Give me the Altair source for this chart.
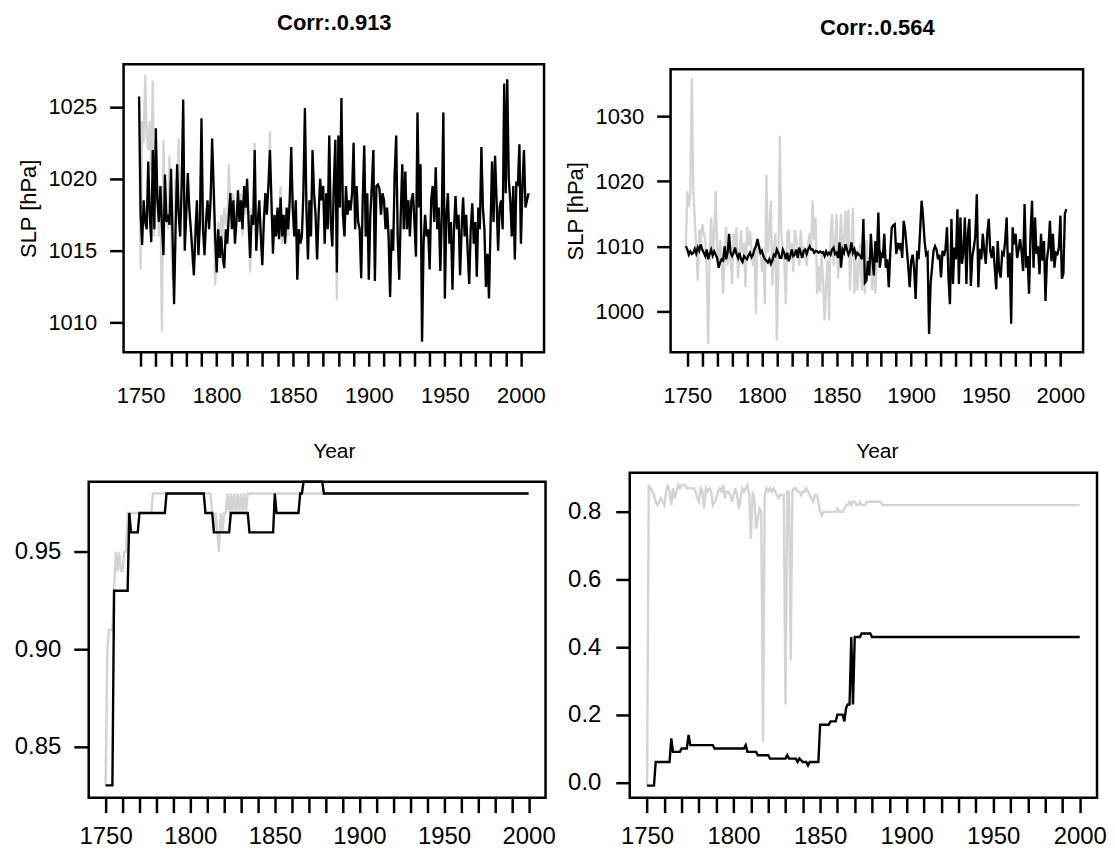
import altair as alt
import pandas as pd

FONT = "Liberation Sans"

# ---------------- data ----------------
TOP_START = 1749

# top-left: SLP, black series 1749-2005
tl_black = [
    1025.7,
    1017.5, 1015.4, 1018.5, 1017.0, 1016.5, 1021.2, 1017.5, 1015.6, 1022.0, 1016.5,
    1023.5, 1018.5, 1017.0, 1019.5, 1016.8, 1014.7, 1020.3, 1017.0, 1017.5, 1016.8,
    1020.7, 1016.0, 1011.3, 1016.5, 1021.0, 1017.5, 1016.0, 1019.5, 1025.5, 1015.0,
    1017.5, 1020.4, 1018.0, 1016.5, 1015.0, 1013.3, 1016.0, 1018.5, 1014.7, 1017.0,
    1024.2, 1016.5, 1014.7, 1017.0, 1018.5, 1016.5, 1018.5, 1022.8, 1019.5, 1016.0,
    1013.5, 1016.5, 1014.5, 1016.0, 1014.5, 1013.8, 1016.5, 1015.5, 1017.5, 1019.0,
    1016.5, 1018.5, 1015.5, 1017.0, 1019.2, 1017.0, 1018.5, 1016.5, 1019.5, 1018.0,
    1020.0, 1017.0, 1014.5, 1017.5, 1016.8, 1022.0, 1015.0, 1017.0, 1018.5, 1016.0,
    1014.0, 1017.0, 1019.0, 1017.5, 1019.5, 1022.0, 1018.5, 1014.8, 1017.5, 1016.0,
    1018.0, 1015.8, 1018.7, 1016.0, 1017.5, 1015.5, 1018.0, 1016.5, 1018.5, 1022.2,
    1018.0, 1016.0, 1018.5, 1013.0, 1016.5, 1015.5, 1016.0, 1019.0, 1024.9, 1018.0,
    1014.4, 1018.5, 1016.0, 1022.0, 1019.0, 1017.5, 1014.4, 1017.5, 1020.0, 1018.5,
    1019.5, 1015.5, 1019.0, 1016.5, 1023.0, 1017.0, 1015.3, 1019.5, 1022.7, 1013.5,
    1023.0, 1018.0, 1025.6, 1017.5, 1016.0, 1019.5, 1017.5, 1018.5, 1017.8, 1019.0,
    1022.5, 1016.5, 1019.5, 1017.0, 1016.5, 1013.1, 1018.5, 1022.3, 1016.0, 1019.0,
    1013.0, 1017.5, 1019.5, 1022.0, 1012.9, 1019.5, 1019.6, 1019.3, 1017.5, 1019.0,
    1018.5, 1016.5, 1018.0, 1016.0, 1011.8, 1016.5, 1015.0, 1020.3, 1023.0, 1016.0,
    1013.0, 1017.5, 1021.0, 1016.5, 1020.5, 1016.5, 1018.5, 1016.0, 1018.5, 1019.0,
    1017.0, 1014.6, 1024.6, 1018.0, 1021.0, 1008.7, 1015.5, 1017.5, 1016.0, 1016.5,
    1013.7, 1018.5, 1019.5, 1017.0, 1020.8, 1016.5, 1018.0, 1013.6, 1017.5, 1024.6,
    1011.7, 1017.5, 1019.0, 1015.5, 1017.0, 1012.3, 1016.5, 1018.8, 1016.5, 1017.5,
    1013.3, 1016.5, 1018.7, 1016.0, 1017.5, 1015.0, 1012.7, 1016.5, 1018.3, 1015.5,
    1017.0, 1013.2, 1018.0, 1016.5, 1022.2, 1018.0, 1016.5, 1012.5, 1014.8, 1011.7,
    1016.5, 1021.2, 1017.0, 1021.6, 1018.5, 1015.0, 1018.0, 1018.5, 1016.5, 1026.6,
    1019.0, 1026.9, 1020.0, 1018.5, 1016.0, 1019.5, 1014.4, 1019.8, 1019.5, 1022.4,
    1015.5, 1019.5, 1022.0, 1018.0, 1018.5, 1019.0,
]

# top-left: grey series, 1749-1849 (later years lie under the black line)
tl_grey_early = [
    1025.0,
    1013.7, 1024.0, 1022.5, 1027.2, 1023.0, 1022.0, 1024.0, 1020.5, 1026.8, 1016.0,
    1022.5, 1019.5, 1016.0, 1018.5, 1009.4, 1022.7, 1018.0, 1017.5, 1016.5, 1021.6,
    1017.0, 1013.0, 1016.5, 1020.0, 1019.5, 1022.8, 1016.5, 1019.0, 1024.5, 1016.0,
    1018.0, 1019.0, 1017.5, 1016.5, 1014.0, 1015.5, 1017.0, 1018.0, 1015.5, 1016.5,
    1023.0, 1017.5, 1015.5, 1018.0, 1017.5, 1017.0, 1019.0, 1021.5, 1018.5, 1012.6,
    1014.5, 1017.0, 1015.0, 1017.5, 1016.0, 1018.0, 1017.0, 1016.5, 1021.0, 1018.0,
    1017.5, 1019.0, 1016.0, 1017.5, 1018.5, 1017.5, 1019.0, 1016.0, 1019.0, 1017.5,
    1019.5, 1016.5, 1013.5, 1018.0, 1017.0, 1022.5, 1015.5, 1017.5, 1018.0, 1016.5,
    1014.5, 1017.5, 1018.5, 1018.0, 1019.5, 1023.3, 1018.0, 1015.5, 1017.0, 1016.5,
    1017.5, 1016.5, 1019.5, 1015.5, 1017.0, 1016.0, 1017.5, 1016.0, 1018.0, 1021.5,
]
tl_grey_late_changes = {1858: 1024.0, 1863: 1021.0, 1879: 1011.6}

# top-right: SLP, black series 1749-2004
tr_black = [
    1010.0,
    1009.5, 1008.7, 1009.2, 1008.8, 1009.0, 1009.6, 1008.9, 1009.8, 1009.3, 1010.3,
    1009.5, 1009.0, 1008.5, 1009.5, 1008.0, 1008.8, 1009.5, 1008.6, 1009.2, 1008.7,
    1008.2, 1006.7, 1007.5, 1008.0, 1007.8, 1010.0, 1008.0, 1009.0, 1011.9, 1009.0,
    1008.5, 1009.0, 1009.8, 1008.8, 1008.2, 1009.0, 1008.0, 1007.6, 1008.5, 1008.2,
    1008.0, 1008.6, 1009.0, 1008.3, 1008.7, 1009.5, 1010.0, 1011.1, 1010.0, 1009.0,
    1009.3, 1008.5, 1008.0, 1007.8, 1007.5, 1008.0, 1007.3, 1007.8, 1008.7, 1008.5,
    1009.5, 1009.0, 1008.2, 1008.2, 1009.5, 1009.0, 1008.0, 1009.0, 1007.7, 1008.5,
    1009.5, 1008.5, 1008.7, 1009.5, 1008.2, 1009.8, 1009.0, 1008.2, 1009.3, 1009.5,
    1008.8, 1009.5, 1010.0, 1009.5, 1009.5, 1009.0, 1009.3, 1009.2, 1009.0, 1009.2,
    1009.0, 1009.1, 1008.5, 1009.2, 1008.7, 1009.0, 1008.7, 1009.5, 1009.8, 1008.8,
    1009.0, 1008.2, 1010.6, 1006.7, 1009.5, 1009.0, 1010.3, 1009.5, 1008.7, 1009.2,
    1010.6, 1009.0, 1009.5, 1008.4, 1009.0, 1008.7, 1008.5, 1008.0, 1014.2, 1004.4,
    1004.7, 1007.7, 1005.5, 1011.9, 1008.0, 1005.5, 1010.8, 1007.5, 1015.2, 1006.7,
    1008.7, 1008.2, 1011.9, 1006.7, 1008.0, 1003.7, 1009.0, 1012.9, 1013.2, 1013.4,
    1008.8, 1010.5, 1009.8, 1010.5, 1008.2, 1013.9, 1012.4, 1009.8, 1007.0, 1003.7,
    1007.7, 1008.7, 1006.5, 1001.9, 1009.3, 1008.0, 1012.4, 1017.0, 1014.4, 1010.8,
    1008.7, 1009.0, 996.5, 1004.2, 1006.7, 1009.3, 1010.0, 1009.5, 1008.0, 1008.7,
    1005.2, 1009.3, 1008.5, 1009.5, 1012.9, 1005.2, 1001.1, 1014.2, 1004.2, 1009.8,
    1008.0, 1015.7, 1004.2, 1014.4, 1007.3, 1009.0, 1014.4, 1004.2, 1011.9, 1014.2,
    1003.9, 1008.5, 1009.8, 1011.6, 1018.0, 1003.7, 1009.6, 1008.0, 1011.9, 1009.3,
    1007.3, 1011.9, 1014.2, 1009.3, 1008.2, 1010.0, 1006.7, 1003.4, 1010.8, 1006.2,
    1005.2, 1009.0, 1008.7, 1010.8, 1014.4, 1005.2, 1009.0, 998.1, 1012.9, 1010.3,
    1011.9, 1008.2, 1009.5, 1011.1, 1009.2, 1006.2, 1016.5, 1006.7, 1008.5, 1002.7,
    1011.9, 1017.0, 1006.7, 1014.4, 1008.8, 1010.0, 1005.7, 1011.9, 1007.8, 1010.8,
    1001.6, 1008.0, 1009.8, 1013.9, 1007.7, 1011.9, 1006.7, 1009.0, 1008.8, 1009.8,
    1014.7, 1005.0, 1005.8, 1015.0, 1015.7,
]

# top-right: grey series 1749-1876 (later years lie under the black line)
tr_grey_early = [
    1010.0,
    1018.5, 1016.0, 1018.0, 1035.8, 1019.0, 1014.0, 1010.0, 1004.7, 1012.5, 1010.5,
    1013.4, 1012.0, 1011.0, 1006.0, 995.0, 1009.5, 1014.4, 1008.0, 1012.0, 1018.5,
    1009.5, 1007.0, 1011.0, 1008.0, 1002.7, 1008.5, 1013.0, 1007.0, 1010.0, 1008.0,
    1004.2, 1012.0, 1010.0, 1012.9, 1005.0, 1009.0, 1012.5, 1009.0, 1010.5, 1003.7,
    1013.0, 1010.0, 1012.4, 1009.5, 1007.0, 1010.0, 999.6, 1011.0, 1009.0, 1010.0,
    1006.0, 1008.5, 1001.1, 1021.0, 1009.0, 1012.0, 1017.0, 1004.0, 1009.5, 1012.0,
    995.5, 1007.0, 1027.0, 1012.0, 1009.5, 1007.5, 1001.1, 1012.0, 1012.5, 1008.0,
    1010.5, 1006.0, 1012.5, 1011.0, 1009.5, 1007.0, 1012.5, 1009.0, 1010.0, 1008.5,
    1007.0, 1010.5, 1012.0, 1010.0, 1017.0, 1011.0, 1014.4, 1002.7, 1007.0, 1003.0,
    1009.0, 1004.5, 998.6, 1004.2, 1008.0, 998.6, 1012.0, 1015.0, 1007.0, 1010.0,
    1015.0, 1005.0, 1009.5, 1015.0, 1008.0, 1011.0, 1015.4, 1009.0, 1015.7, 1003.2,
    1010.0, 1015.9, 1002.7, 1009.5, 1003.2, 1007.0, 1010.5, 1003.2, 1009.5, 1002.7,
    1011.0, 1006.0, 1008.0, 1009.0, 1003.2, 1008.5, 1002.7,
]

# bottom-left: change points (year, value)
bl_black_years = [1750, 1754, 1755, 1763, 1764, 1765, 1769, 1770, 1785, 1786, 1808, 1809,
                  1813, 1814, 1823, 1824, 1834, 1835, 1849, 1850, 1851, 1864, 1865, 1866,
                  1867, 1878, 1879, 2000]
bl_black_vals = [0.83, 0.83, 0.93, 0.93, 0.97, 0.96, 0.96, 0.97, 0.97, 0.98, 0.98, 0.97,
                 0.97, 0.96, 0.96, 0.97, 0.97, 0.96, 0.96, 0.98, 0.97, 0.97, 0.98, 0.98,
                 0.986, 0.986, 0.98, 0.98]
bl_grey_years = [1750, 1751, 1752, 1754, 1755, 1756, 1757, 1758, 1759, 1760, 1761, 1762,
                 1763, 1777, 1778, 1812, 1813, 1814, 1815, 1816, 1817, 1818, 1819, 1820,
                 1821, 1822, 1823, 1824, 1825, 1826, 1827, 1828, 1829, 1830, 1831, 1832,
                 1833, 1834, 2000]
bl_grey_vals = [0.83, 0.90, 0.91, 0.91, 0.93, 0.95, 0.94, 0.95, 0.94, 0.94, 0.95, 0.95,
                0.97, 0.97, 0.98, 0.98, 0.97, 0.96, 0.97, 0.96, 0.95, 0.97, 0.96, 0.97,
                0.97, 0.98, 0.97, 0.98, 0.97, 0.98, 0.97, 0.98, 0.97, 0.98, 0.97, 0.98,
                0.97, 0.98, 0.98]

# bottom-right: change points (year, value)
br_black_years = [1750, 1754, 1755, 1763, 1764, 1765, 1769, 1770, 1773, 1774, 1775, 1788,
                  1789, 1806, 1807, 1808, 1813, 1814, 1820, 1821, 1830, 1831, 1832, 1836,
                  1837, 1838, 1840, 1842, 1843, 1844, 1849, 1850, 1855, 1856, 1859, 1860,
                  1863, 1864, 1865, 1866, 1867, 1868, 1869, 1870, 1873, 1874, 1879, 1880,
                  2000]
br_black_vals = [-0.01, -0.01, 0.06, 0.06, 0.13, 0.09, 0.09, 0.10, 0.10, 0.14, 0.11, 0.11,
                 0.10, 0.10, 0.11, 0.09, 0.09, 0.08, 0.08, 0.07, 0.07, 0.08, 0.07, 0.07,
                 0.06, 0.07, 0.06, 0.06, 0.05, 0.06, 0.06, 0.17, 0.17, 0.18, 0.18, 0.20,
                 0.20, 0.18, 0.22, 0.23, 0.23, 0.43, 0.23, 0.43, 0.43, 0.44, 0.44, 0.43,
                 0.43]
br_grey_years = list(range(1750, 1881)) + [1885, 1886, 2000]
br_grey_vals = [
    -0.01,
    0.88, 0.87, 0.86, 0.85, 0.83, 0.82, 0.83, 0.84, 0.83, 0.82,   # 1751-1760
    0.86, 0.88, 0.86, 0.82, 0.87, 0.84, 0.86, 0.88, 0.87, 0.88,   # 1761-1770
    0.88, 0.88, 0.87, 0.87, 0.87, 0.87, 0.87, 0.86, 0.84, 0.83,   # 1771-1780
    0.87, 0.86, 0.81, 0.87, 0.86, 0.87, 0.86, 0.82, 0.83, 0.84,   # 1781-1790
    0.86, 0.87, 0.86, 0.88, 0.84, 0.86, 0.86, 0.85, 0.83, 0.85,   # 1791-1800
    0.87, 0.85, 0.81, 0.84, 0.87, 0.86, 0.87, 0.88, 0.85, 0.72,   # 1801-1810
    0.86, 0.84, 0.75, 0.78, 0.81, 0.80, 0.12, 0.85, 0.87, 0.86,   # 1811-1820
    0.87, 0.86, 0.87, 0.86, 0.85, 0.84, 0.85, 0.85, 0.85, 0.23,   # 1821-1830
    0.86, 0.86, 0.36, 0.86, 0.87, 0.87, 0.86, 0.86, 0.85, 0.86,   # 1831-1840
    0.86, 0.87, 0.86, 0.85, 0.84, 0.83, 0.85, 0.85, 0.83, 0.80,   # 1841-1850
    0.79, 0.80, 0.80, 0.80, 0.80, 0.80, 0.80, 0.80, 0.80, 0.81,   # 1851-1860
    0.80, 0.80, 0.80, 0.81, 0.82, 0.82, 0.83, 0.82, 0.83, 0.83,   # 1861-1870
    0.82, 0.82, 0.83, 0.82, 0.82, 0.82, 0.83, 0.83, 0.83, 0.83,   # 1871-1880
    0.83, 0.82, 0.82,                                             # 1885, 1886, 2000
]

# tick labels / titles
corr_left = "Corr:.0.913"
corr_right = "Corr:.0.564"
y_title = "SLP [hPa]"
x_title = "Year"
year_ticks = list(range(1750, 2001, 10))
tl_yticks = [1010, 1015, 1020, 1025]
tr_yticks = [1000, 1010, 1020, 1030]
bl_yticks = [0.85, 0.90, 0.95]
br_yticks = [0.0, 0.2, 0.4, 0.6, 0.8]

# axis extents of each panel (the plot box is drawn at these limits)
TOP_X = [1738.8, 2015.2]
BOT_X = [1740.0, 2010.0]
TL_Y = [1007.96, 1027.94]
TR_Y = [993.7, 1037.2]
BL_Y = [0.8237, 0.986]
BR_Y = [-0.0456, 0.9156]


# ---------------- build tables ----------------
def annual(start, values):
    return pd.DataFrame({"year": list(range(start, start + len(values))), "value": values})


def points(years, values):
    return pd.DataFrame({"year": years, "value": values})


def frame_df(xdom, ydom):
    return pd.DataFrame({"x0": [xdom[0]], "x1": [xdom[1]], "y0": [ydom[0]], "y1": [ydom[1]]})


tl_grey = tl_grey_early + tl_black[len(tl_grey_early):]
for yr, v in tl_grey_late_changes.items():
    tl_grey[yr - TOP_START] = v
tr_grey = tr_grey_early + tr_black[len(tr_grey_early):]

GREY = "#d3d3d3"


def panel(grey_df, black_df, xdom, ydom, vw, vh, box, yticks, yfmt, lab_size,
          ytick, ylab_pad, xtick, xlab_pad, lw, ytitle=None, ytitle_pad=0,
          xtitle=None, xtitle_pad=0, title=None, title_pad=30):
    x_left, x_right, y_top, y_bottom = box
    xs = alt.Scale(domain=xdom, range=[x_left, x_right], nice=False, zero=False)
    ys = alt.Scale(domain=ydom, range=[y_bottom, y_top], nice=False, zero=False)

    ykw = dict(orient="left", offset=-x_left, values=yticks, format=yfmt,
               tickSize=ytick, tickWidth=2.5, domain=False, grid=False,
               labelFontSize=lab_size, labelPadding=ylab_pad, labelOverlap=False,
               labelFlush=False, labelAngle=0)
    if ytitle:
        ykw.update(title=ytitle, titleFontSize=22, titleFontWeight="normal",
                   titlePadding=ytitle_pad)
    else:
        ykw.update(title=None)
    yaxis = alt.Axis(**ykw)

    xkw = dict(orient="bottom", offset=y_bottom - vh, values=year_ticks, format="d",
               labelExpr="datum.value % 50 == 0 ? datum.label : ''",
               tickSize=xtick, tickWidth=2.5, domain=False, grid=False,
               labelFontSize=lab_size, labelPadding=xlab_pad, labelOverlap=False,
               labelFlush=False, labelAngle=0)
    if xtitle:
        xkw.update(title=xtitle, titleFontSize=21, titleFontWeight="normal",
                   titlePadding=xtitle_pad)
    else:
        xkw.update(title=None)
    xaxis = alt.Axis(**xkw)

    if title:
        top_axis = alt.Axis(orient="top", offset=-y_top, ticks=False, labels=False,
                            domain=False, grid=False, title=title, titleFontSize=22,
                            titleFontWeight="bold", titlePadding=title_pad)
    else:
        top_axis = None

    grey = alt.Chart(grey_df).mark_line(color=GREY, strokeWidth=lw).encode(
        x=alt.X("year:Q", scale=xs, axis=None),
        y=alt.Y("value:Q", scale=ys, axis=yaxis))
    black = alt.Chart(black_df).mark_line(color="black", strokeWidth=lw).encode(
        x=alt.X("year:Q", scale=xs, axis=xaxis),
        y=alt.Y("value:Q", scale=ys, axis=yaxis))
    frame = alt.Chart(frame_df(xdom, ydom)).mark_rect(
        filled=False, stroke="black", strokeWidth=2.5).encode(
        x=alt.X("x0:Q", scale=xs, axis=top_axis),
        x2=alt.X2("x1"),
        y=alt.Y("y0:Q", scale=ys, axis=yaxis),
        y2=alt.Y2("y1"))
    return alt.layer(grey, black, frame).resolve_scale(x="independent").properties(
        width=vw, height=vh)


# view cells: columns 550 / 549 px, rows 457 / 385 px  (page is 1099 x 842 inside the margin)
tl = panel(annual(TOP_START, tl_grey), annual(TOP_START, tl_black), TOP_X, TL_Y,
           550, 457, (116, 538, 55, 344), tl_yticks, "d", 22, 14, 13, 14, 19, 2.3,
           ytitle=y_title, ytitle_pad=7, xtitle=x_title, xtitle_pad=35,
           title=corr_left, title_pad=30)
tr = panel(annual(TOP_START, tr_grey), annual(TOP_START, tr_black), TOP_X, TR_Y,
           549, 457, (115, 529, 60, 344), tr_yticks, "d", 22, 14, 13, 14, 19, 2.3,
           ytitle=y_title, ytitle_pad=7, xtitle=x_title, xtitle_pad=35,
           title=corr_right, title_pad=30)
bl = panel(points(bl_grey_years, bl_grey_vals), points(bl_black_years, bl_black_vals),
           BOT_X, BL_Y, 550, 385, (81, 539.5, 17, 334), bl_yticks, ".2f", 24,
           15, 13, 15, 12, 2.4)
br = panel(points(br_grey_years, br_grey_vals), points(br_black_years, br_black_vals),
           BOT_X, BR_Y, 549, 385, (74, 543, 8, 334), br_yticks, ".1f", 24,
           14, 15, 15, 12, 2.4)

chart = alt.concat(tl, tr, bl, br, columns=2, spacing=0).properties(
    padding=0
).configure_view(
    strokeWidth=0, fill="white"
).configure_axis(
    labelFont=FONT, titleFont=FONT, labelColor="black", titleColor="black",
    tickColor="black"
)

chart.save("out.html", embed_options={"renderer": "svg", "actions": False})
